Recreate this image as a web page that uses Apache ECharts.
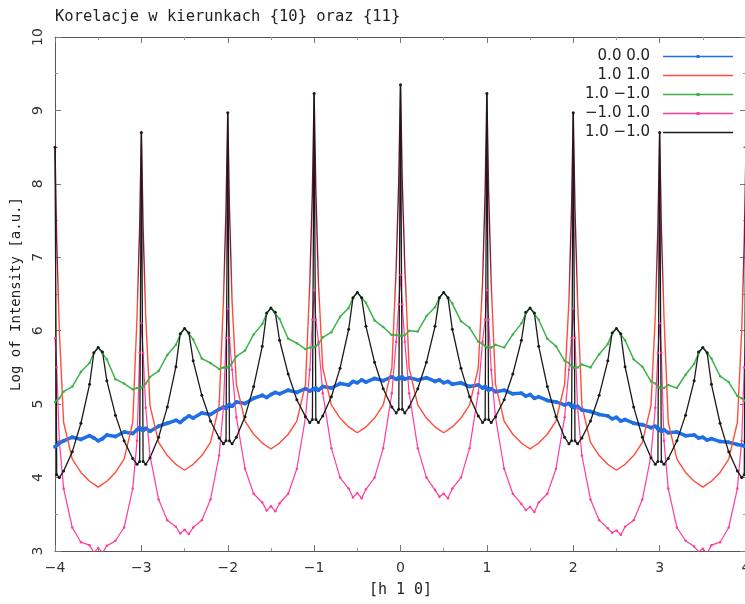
<!DOCTYPE html>
<html><head><meta charset="utf-8">
<script src="https://cdn.jsdelivr.net/npm/echarts@6/dist/echarts.min.js"></script>
<style>html,body{margin:0;padding:0;background:#fff}#c{width:745px;height:604px}</style>
</head><body><div id="c"></div>
<script>
// x positions [h]
const xs = [
 -4,-3.98,-3.95,-3.9,-3.8,-3.7,-3.6,-3.55,-3.5,-3.45,-3.4,-3.3,-3.2,-3.1,-3.05,-3.02,
 -3,-2.98,-2.95,-2.9,-2.8,-2.7,-2.6,-2.55,-2.5,-2.45,-2.4,-2.3,-2.2,-2.1,-2.05,-2.02,
 -2,-1.98,-1.95,-1.9,-1.8,-1.7,-1.6,-1.55,-1.5,-1.45,-1.4,-1.3,-1.2,-1.1,-1.05,-1.02,
 -1,-0.98,-0.95,-0.9,-0.8,-0.7,-0.6,-0.55,-0.5,-0.45,-0.4,-0.3,-0.2,-0.1,-0.05,-0.02,
 0,0.02,0.05,0.1,0.2,0.3,0.4,0.45,0.5,0.55,0.6,0.7,0.8,0.9,0.95,0.98,
 1,1.02,1.05,1.1,1.2,1.3,1.4,1.45,1.5,1.55,1.6,1.7,1.8,1.9,1.95,1.98,
 2,2.02,2.05,2.1,2.2,2.3,2.4,2.45,2.5,2.55,2.6,2.7,2.8,2.9,2.95,2.98,
 3,3.02,3.05,3.1,3.2,3.3,3.4,3.45,3.5,3.55,3.6,3.7,3.8,3.9,3.95,3.98,
 4
];
// "0.0 0.0"
const blueY = [
 4.42,4.44,4.47,4.50,4.55,4.52,4.57,4.54,4.50,4.53,4.58,4.56,4.62,4.60,4.65,4.68,
 4.66,4.64,4.67,4.63,4.70,4.74,4.78,4.75,4.80,4.84,4.81,4.88,4.86,4.93,4.96,4.94,
 4.98,5.00,4.97,5.03,5.01,5.08,5.12,5.09,5.13,5.16,5.14,5.19,5.16,5.21,5.18,5.20,
 5.20,5.22,5.19,5.24,5.22,5.28,5.26,5.31,5.29,5.33,5.30,5.35,5.32,5.37,5.34,5.36,
 5.35,5.37,5.34,5.36,5.33,5.36,5.31,5.33,5.29,5.31,5.27,5.29,5.24,5.26,5.22,5.24,
 5.21,5.19,5.21,5.17,5.19,5.14,5.15,5.11,5.13,5.08,5.10,5.05,5.03,4.99,5.01,4.97,
 4.98,4.95,4.97,4.92,4.90,4.86,4.84,4.80,4.82,4.77,4.79,4.74,4.72,4.68,4.70,4.66,
 4.66,4.63,4.65,4.61,4.62,4.57,4.58,4.54,4.55,4.51,4.53,4.49,4.48,4.45,4.44,4.43,
 4.42
];
// "1.0 1.0"
const redY = [
 8.5,7.2,6.0,4.75,4.25,4.07,3.95,3.91,3.87,3.91,3.95,4.07,4.25,4.75,6.2,7.4,
 8.7,7.4,6.2,4.98,4.48,4.30,4.18,4.14,4.10,4.14,4.18,4.30,4.48,4.98,6.4,7.65,
 8.97,7.65,6.4,5.27,4.77,4.59,4.47,4.43,4.39,4.43,4.47,4.59,4.77,5.27,6.65,7.9,
 9.23,7.9,6.65,5.49,4.99,4.81,4.69,4.65,4.61,4.65,4.69,4.81,4.99,5.49,6.86,8.05,
 9.35,8.05,6.86,5.49,4.99,4.81,4.69,4.65,4.61,4.65,4.69,4.81,4.99,5.49,6.65,7.9,
 9.23,7.9,6.65,5.27,4.77,4.59,4.47,4.43,4.39,4.43,4.47,4.59,4.77,5.27,6.4,7.65,
 8.97,7.65,6.4,4.98,4.48,4.30,4.18,4.14,4.10,4.14,4.18,4.30,4.48,4.98,6.2,7.4,
 8.7,7.4,6.2,4.75,4.25,4.07,3.95,3.91,3.87,3.91,3.95,4.07,4.25,4.75,6.0,7.2,
 8.5
];
// "1.0 -1.0" (green)
const greenY = [
 5.03,5.05,5.08,5.17,5.24,5.44,5.56,5.70,5.77,5.69,5.61,5.34,5.28,5.20,5.22,5.22,
 5.22,5.24,5.28,5.37,5.45,5.67,5.81,5.95,6.03,5.96,5.88,5.62,5.56,5.48,5.50,5.50,
 5.50,5.52,5.56,5.65,5.73,5.95,6.09,6.23,6.31,6.23,6.16,5.89,5.83,5.75,5.77,5.77,
 5.77,5.79,5.82,5.91,5.98,6.19,6.31,6.45,6.52,6.45,6.38,6.14,6.05,5.94,5.94,5.93,
 5.93,5.93,5.94,6.00,5.99,6.20,6.32,6.45,6.52,6.45,6.37,6.13,6.04,5.85,5.82,5.79,
 5.77,5.77,5.77,5.81,5.77,5.95,6.10,6.23,6.31,6.23,6.15,5.89,5.79,5.59,5.56,5.52,
 5.50,5.50,5.50,5.54,5.50,5.68,5.82,5.96,6.03,5.95,5.87,5.61,5.51,5.31,5.28,5.24,
 5.22,5.22,5.22,5.26,5.22,5.40,5.55,5.69,5.77,5.70,5.62,5.38,5.30,5.11,5.08,5.05,
 5.03
];
// "-1.0 1.0" (pink)
const pinkY = [
 5.9,5.5,4.5,3.85,3.32,3.12,3.08,2.98,3.04,2.98,3.07,3.14,3.32,3.85,4.5,5.7,
 6.1,5.7,4.95,4.30,3.70,3.42,3.33,3.24,3.29,3.23,3.32,3.42,3.70,4.30,4.95,5.9,
 6.3,5.9,5.47,4.82,4.12,3.78,3.66,3.55,3.61,3.54,3.65,3.78,4.12,4.82,5.47,6.15,
 6.55,6.15,5.85,5.15,4.40,4.00,3.85,3.73,3.79,3.72,3.84,4.00,4.40,5.15,5.85,6.36,
 6.76,6.36,5.85,5.15,4.40,4.00,3.83,3.74,3.78,3.72,3.85,4.00,4.40,5.15,5.85,6.15,
 6.55,6.15,5.47,4.82,4.12,3.78,3.64,3.56,3.60,3.53,3.66,3.78,4.12,4.82,5.47,5.9,
 6.3,5.9,4.95,4.30,3.70,3.42,3.31,3.25,3.28,3.22,3.33,3.42,3.70,4.30,4.95,5.7,
 6.1,5.7,4.5,3.85,3.32,3.14,3.06,2.99,3.03,2.97,3.08,3.12,3.32,3.85,4.5,5.5,
 5.9
];
// "1.0 -1.0" (black)
const blackY = [
 8.5,4.04,4.0,4.09,4.35,4.74,5.27,5.70,5.77,5.71,5.32,4.85,4.50,4.26,4.18,4.22,
 8.7,4.22,4.18,4.27,4.55,4.96,5.51,5.96,6.03,5.97,5.59,5.12,4.77,4.54,4.46,4.50,
 8.97,4.50,4.46,4.55,4.83,5.24,5.79,6.24,6.31,6.25,5.87,5.41,5.06,4.83,4.75,4.79,
 9.23,4.79,4.75,4.84,5.10,5.49,6.02,6.45,6.52,6.45,6.06,5.57,5.21,4.96,4.88,4.93,
 9.35,4.93,4.88,4.96,5.21,5.57,6.06,6.45,6.52,6.45,6.02,5.49,5.10,4.84,4.75,4.79,
 9.23,4.79,4.75,4.83,5.06,5.41,5.87,6.25,6.31,6.24,5.79,5.24,4.83,4.55,4.46,4.50,
 8.97,4.50,4.46,4.54,4.77,5.12,5.59,5.97,6.03,5.96,5.51,4.96,4.55,4.27,4.18,4.22,
 8.7,4.22,4.18,4.26,4.50,4.85,5.32,5.71,5.77,5.70,5.27,4.74,4.35,4.09,4.0,4.04,
 8.5
];
const seriesNames = ['0.0 0.0', '1.0 1.0', '1.0 \u22121.0', '\u22121.0 1.0', '1.0 \u22121.0 '];
const titleText = 'Korelacje w kierunkach {10} oraz {11}';
const xName = '[h 1 0]';
const yName = 'Log of Intensity [a.u.]';

const mono = "'DejaVu Sans Mono', monospace";
const sans = "'DejaVu Sans', sans-serif";
const colors = ['#1f6fe5', '#ff4d3d', '#3cb34a', '#ff3d9a', '#1a1a1a'];
const ySets = [blueY, redY, greenY, pinkY, blackY];
const widths = [3.5, 1.4, 1.5, 1.2, 1.3];
const symSizes = [4, 0, 2.5, 2.5, 3];
const lineIcon = 'path://M0,0M70,14M0,6.2L70,6.2L70,7.8L0,7.8Z';
const dotIcon = lineIcon + 'M33.5,5.5L36.5,5.5L36.5,8.5L33.5,8.5Z';
const legendIcons = [dotIcon, lineIcon, dotIcon, dotIcon, lineIcon];

const chart = echarts.init(document.getElementById('c'), null, {renderer: 'canvas'});
const minus = v => String(v).replace('-', '\u2212');
const axisCommon = {
  min: -4, max: 4, interval: 1,
  axisLine: {show: true, onZero: false, lineStyle: {color: '#555', width: 1}},
  axisTick: {show: true, inside: true, length: 6, lineStyle: {color: '#777'}},
  minorTick: {show: true, splitNumber: 2, length: 3, lineStyle: {color: '#999'}},
  splitLine: {show: false}
};
const option = {
  backgroundColor: '#fff',
  animation: false,
  title: {
    text: titleText, left: 50, top: 4,
    textStyle: {fontFamily: mono, fontSize: 15.5, fontWeight: 'normal', color: '#222'}
  },
  legend: {
    orient: 'vertical', left: 580, top: 44, align: 'right',
    itemWidth: 70, itemHeight: 14, itemGap: 4,
    data: seriesNames.map((n, k) => ({
      name: n, icon: legendIcons[k],
      itemStyle: {color: colors[k], borderColor: colors[k], borderWidth: 0, opacity: 1}
    })),
    formatter: n => '{a|' + n.trim() + '}',
    textStyle: {rich: {a: {width: 82, align: 'right', padding: [0, 8, 0, 0], fontFamily: sans, fontSize: 15, color: '#222'}}}
  },
  grid: {left: 55, top: 37, width: 691, height: 514, outerBoundsMode: 'none', containLabel: false},
  xAxis: [
    Object.assign({}, axisCommon, {
      type: 'value', position: 'bottom',
      axisLabel: {fontFamily: sans, fontSize: 14, color: '#333', margin: 10, formatter: minus},
      name: xName, nameLocation: 'middle', nameGap: 32,
      nameTextStyle: {fontFamily: mono, fontSize: 15, color: '#222'}
    }),
    Object.assign({}, axisCommon, {type: 'value', position: 'top', axisLabel: {show: false}})
  ],
  yAxis: [
    Object.assign({}, axisCommon, {
      type: 'value', min: 3, max: 10, interval: 1, position: 'left',
      axisLabel: {fontFamily: sans, fontSize: 14, color: '#333', margin: 10, rotate: 90},
      name: yName, nameLocation: 'middle', nameGap: 20,
      nameTextStyle: {fontFamily: mono, fontSize: 14, color: '#222'}
    }),
    Object.assign({}, axisCommon, {type: 'value', min: 3, max: 10, interval: 1, position: 'right', axisLabel: {show: false}})
  ],
  series: ySets.map((ys, k) => ({
    name: seriesNames[k],
    type: 'line',
    data: xs.map((x, i) => [x, ys[i]]),
    showSymbol: symSizes[k] > 0,
    symbol: symSizes[k] > 0 ? 'circle' : 'none',
    symbolSize: symSizes[k],
    color: colors[k],
    itemStyle: {color: colors[k]},
    lineStyle: {color: colors[k], width: widths[k]},
    silent: true,
    emphasis: {disabled: true},
    clip: true
  }))
};
chart.setOption(option);

// darken the narrow Bragg spikes of the "1.0 1.0" curve (style only)
const yPx = v => chart.convertToPixel({yAxisIndex: 0}, v);
const frac = v => (yPx(v) - yPx(10)) / (yPx(3) - yPx(10));
const spikeGrad = new echarts.graphic.LinearGradient(0, yPx(10), 0, yPx(3), [
  {offset: 0, color: '#3a0a18'},
  {offset: frac(8.6), color: '#5e1229'},
  {offset: frac(7.0), color: '#8b1a3c'},
  {offset: frac(6.3), color: colors[1]},
  {offset: 1, color: colors[1]}
], true);
chart.setOption({series: [{}, {lineStyle: {color: spikeGrad}}]});
</script>
</body></html>
